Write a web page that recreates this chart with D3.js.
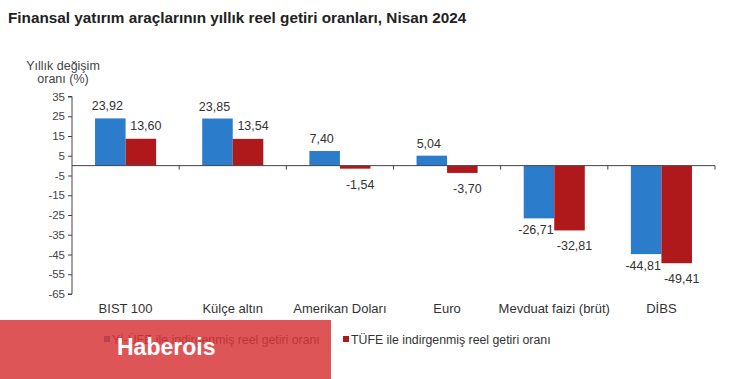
<!DOCTYPE html>
<html><head><meta charset="utf-8">
<script src="https://cdn.jsdelivr.net/npm/d3@7"></script>
<style>
body{margin:0;background:#fff;}
svg{display:block;font-family:"Liberation Sans",Arial,sans-serif;}
</style></head>
<body>
<script>
const categories = ["BIST 100","Külçe altın","Amerikan Doları","Euro","Mevduat faizi (brüt)","DİBS"];
const seriesNames = ["Yİ-ÜFE ile indirgenmiş reel getiri oranı","TÜFE ile indirgenmiş reel getiri oranı"];
const ufeValues = [23.92, 23.85, 7.40, 5.04, -26.71, -44.81];
const tufeValues = [13.60, 13.54, -1.54, -3.70, -32.81, -49.41];
const yTicks = [35,25,15,5,-5,-15,-25,-35,-45,-55,-65];
const colors = ["#2b7dcc","#b0191c"];

const W = 750, H = 379;
const svg = d3.select("body").append("svg").attr("width", W).attr("height", H);

svg.append("text").attr("x", 8).attr("y", 23)
  .attr("font-size", 15.3).attr("font-weight", "bold").attr("fill", "#222")
  .text("Finansal yatırım araçlarının yıllık reel getiri oranları, Nisan 2024");

const y = d3.scaleLinear().domain([-65, 35]).range([294, 96.5]);
const x = d3.scaleBand().domain(categories).range([72, 715]).paddingInner(0.43).paddingOuter(0.215);
const xs = d3.scaleBand().domain([0,1]).range([0, x.bandwidth()]);

// y axis
const yAxis = d3.axisLeft(y).tickValues(yTicks).tickSize(4).tickFormat(d => d);
const gy = svg.append("g").attr("transform", "translate(72,0)").call(yAxis);
gy.select(".domain").attr("stroke", "#444").attr("d", "M-4," + y(35) + "H0V" + y(-65) + "H-4");
gy.selectAll(".tick line").attr("stroke", "#444");
gy.selectAll(".tick text").attr("font-size", 11.5).attr("fill", "#444").attr("x", -7)
  .attr("font-family", "Liberation Sans, Arial, sans-serif");

// y title
svg.append("text").attr("x", 63).attr("y", 70).attr("text-anchor", "middle")
  .attr("font-size", 12.5).attr("fill", "#444").text("Yıllık değişim");
svg.append("text").attr("x", 63).attr("y", 83).attr("text-anchor", "middle")
  .attr("font-size", 12.5).attr("fill", "#444").text("oranı (%)");

const data = categories.map((c, i) => ({c, v: [ufeValues[i], tufeValues[i]]}));

// bars
const groups = svg.append("g").selectAll("g").data(data).join("g")
  .attr("transform", d => `translate(${x(d.c)},0)`);
groups.selectAll("rect").data(d => d.v.map((v, k) => ({v, k}))).join("rect")
  .attr("x", d => xs(d.k)).attr("width", xs.bandwidth())
  .attr("y", d => y(Math.max(0, d.v))).attr("height", d => Math.abs(y(d.v) - y(0)))
  .attr("fill", d => colors[d.k]);

// value labels
const fmt = v => d3.format(".2f")(v).replace(".", ",").replace("−", "-");
groups.selectAll("text.val").data(d => d.v.map((v, k) => ({v, k}))).join("text")
  .attr("class", "val")
  .attr("x", d => xs(d.k) + xs.bandwidth() / 2 + (d.k === 0 ? -3 : 5))
  .attr("y", d => d.v >= 0 ? y(d.v) - (d.k === 0 ? 8 : 9) : y(d.v) + (d.k === 0 ? 16 : 20))
  .attr("text-anchor", "middle").attr("font-size", 12.5).attr("fill", "#333")
  .text(d => fmt(d.v));

// category axis at zero
const xAxis = d3.axisBottom(x).tickSize(0).tickFormat("");
const gx = svg.append("g").attr("transform", `translate(0,${y(0)})`).call(xAxis);
gx.select(".domain").attr("stroke", "#444").attr("d", "M72,0H715");
const bounds = categories.map(c => x(c) + x.step() * 0.5 + x.bandwidth() / 2);
gx.selectAll("line.sep").data(bounds).join("line").attr("class", "sep")
  .attr("x1", d => d).attr("x2", d => d).attr("y1", 0).attr("y2", 4).attr("stroke", "#444");

// category labels
svg.append("g").selectAll("text").data(categories).join("text")
  .attr("x", d => x(d) + x.bandwidth() / 2).attr("y", 313)
  .attr("text-anchor", "middle").attr("font-size", 13).attr("fill", "#333").text(d => d);

// legend
const legendX = [104, 343];
const lg = svg.append("g").selectAll("g").data(seriesNames).join("g")
  .attr("transform", (d, i) => `translate(${legendX[i]},340)`);
lg.append("rect").attr("x", 0).attr("y", -4).attr("width", 6).attr("height", 6)
  .attr("fill", (d, i) => colors[i]);
lg.append("text").attr("x", 8).attr("y", 4).attr("font-size", 12.3).attr("fill", "#333").text(d => d);

// watermark overlay
svg.append("rect").attr("x", 0).attr("y", 320).attr("width", 331).attr("height", 59)
  .attr("fill", "rgb(216,53,56)").attr("opacity", 0.84);
svg.append("text").attr("x", 117).attr("y", 355).attr("font-size", 23).attr("font-weight", "bold")
  .attr("fill", "#fff").text("Haberois");
</script>
</body></html>
